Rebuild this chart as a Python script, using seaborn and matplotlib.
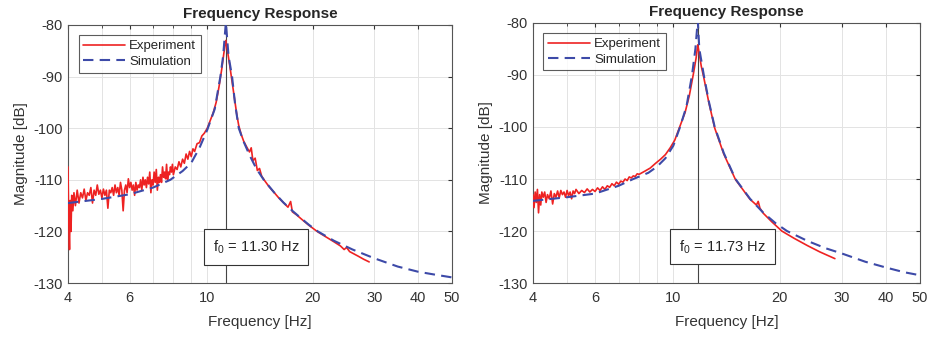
import numpy as np
import pandas as pd
import matplotlib
matplotlib.use("Agg")
import matplotlib.pyplot as plt
import seaborn as sns
from matplotlib.ticker import FixedLocator, NullFormatter

# ---------------- data ----------------
# Left panel: f0 = 11.30 Hz
sim1_f = [4.0, 5.0, 6.0, 7.0, 7.84, 8.5, 9.0, 9.5, 10.0, 10.5, 10.9, 11.1, 11.3,
          11.5, 11.77, 12.0, 12.3, 12.7, 13.2, 13.8, 14.5, 15.5, 16.5, 17.5, 18.5,
          19.5, 20.7, 23.0, 26.0, 30.0, 35.0, 40.0, 45.0, 50.0]
sim1_m = [-114.5, -113.7, -112.8, -111.5, -110.0, -108.3, -106.7, -103.8, -100.3,
          -96.3, -90.0, -86.0, -79.5, -86.0, -90.0, -95.2, -100.0, -102.6, -105.2,
          -107.8, -110.0, -112.4, -114.4, -116.0, -117.4, -118.7, -120.0, -121.8,
          -123.5, -125.2, -126.8, -127.8, -128.4, -128.9]

exp1_f = [4.00, 4.02, 4.04, 4.06, 4.08, 4.10, 4.13, 4.16, 4.20, 4.25, 4.30, 4.35,
          4.40, 4.45, 4.50, 4.55, 4.60, 4.65, 4.70, 4.75, 4.80, 4.85, 4.90, 4.95,
          5.00, 5.05, 5.10, 5.15, 5.20, 5.25, 5.30, 5.35, 5.40, 5.45, 5.50, 5.55,
          5.60, 5.65, 5.70, 5.75, 5.80, 5.85, 5.90, 5.95, 6.00, 6.05, 6.10, 6.15,
          6.20, 6.25, 6.30, 6.35, 6.40, 6.45, 6.50, 6.55, 6.60, 6.65, 6.70, 6.75,
          6.80, 6.85, 6.90, 6.95, 7.00, 7.05, 7.10, 7.15, 7.20, 7.25, 7.30, 7.35,
          7.40, 7.45, 7.50, 7.55, 7.60, 7.65, 7.70, 7.75, 7.80, 7.85, 7.90, 7.95,
          8.00, 8.10, 8.20, 8.30, 8.40, 8.50, 8.60, 8.70, 8.80, 8.90, 9.00, 9.10,
          9.20, 9.35, 9.50, 9.65, 9.80, 10.0, 10.2, 10.4, 10.6, 10.8, 11.0, 11.15,
          11.3, 11.45, 11.6, 11.8, 12.0, 12.15, 12.3, 12.5, 12.7, 12.95, 13.2, 13.35,
          13.5, 13.7, 13.9, 14.1, 14.3, 14.6, 15.0, 15.5, 16.0, 16.5, 17.0, 17.3,
          17.5, 18.0, 18.5, 19.5, 20.7, 22.0, 23.0, 24.0, 24.6, 25.0, 25.5, 26.0,
          27.0, 28.0, 29.0]
exp1_m = [-107.5, -118.0, -123.5, -114.0, -120.0, -113.0, -116.0, -112.5, -115.0,
          -112.0, -114.5, -112.5, -113.5, -111.8, -114.0, -112.5, -113.0, -111.5,
          -114.5, -112.0, -113.0, -111.0, -112.8, -112.0, -113.5, -111.8, -113.0,
          -112.0, -115.5, -112.0, -112.5, -111.5, -113.0, -111.0, -112.5, -111.5,
          -113.0, -110.5, -112.0, -116.0, -112.0, -111.0, -112.5, -109.8, -111.5,
          -110.5, -112.0, -111.0, -113.0, -110.5, -112.0, -111.0, -111.5, -110.0,
          -112.0, -109.5, -111.0, -110.0, -111.5, -109.5, -110.8, -108.5, -112.5,
          -110.0, -111.0, -108.5, -110.5, -108.0, -112.0, -109.5, -110.5, -109.0,
          -110.5, -107.5, -109.5, -108.5, -109.8, -107.0, -110.0, -108.5, -109.0,
          -107.5, -108.5, -107.0, -109.0, -107.5, -108.0, -106.5, -107.5, -106.0,
          -106.8, -105.0, -106.0, -104.5, -105.5, -104.0, -104.5, -103.0, -102.8,
          -101.5, -101.0, -100.0, -98.5, -97.0, -95.0, -92.0, -88.5, -85.5, -83.0,
          -85.5, -88.0, -91.5, -95.0, -97.5, -99.5, -101.2, -102.5, -103.6, -104.6,
          -103.8, -106.3, -105.8, -108.2, -107.8, -109.3, -110.2, -111.3, -112.4,
          -113.5, -114.4, -115.3, -114.2, -116.2, -116.8, -117.5, -118.8, -120.1,
          -121.2, -122.0, -122.8, -123.5, -123.1, -123.9, -124.2, -124.8, -125.4,
          -125.9]

# Right panel: f0 = 11.73 Hz
sim2_f = [4.0, 5.0, 6.0, 7.0, 7.7, 8.5, 9.0, 9.5, 10.0, 10.45, 10.9, 11.3, 11.55,
          11.73, 11.85, 12.2, 12.6, 13.1, 13.9, 15.0, 16.5, 18.0, 19.5, 21.0, 24.0,
          27.0, 30.0, 35.0, 40.0, 45.0, 50.0]
sim2_m = [-114.2, -113.5, -112.8, -111.3, -110.0, -108.8, -107.6, -106.0, -103.6,
          -100.0, -96.0, -90.0, -85.0, -79.5, -85.0, -90.0, -95.0, -100.0, -105.0,
          -110.0, -113.8, -116.5, -118.5, -120.0, -121.9, -123.3, -124.3, -125.9,
          -127.0, -127.9, -128.5]

exp2_f = [4.00, 4.03, 4.06, 4.09, 4.12, 4.15, 4.18, 4.21, 4.24, 4.28, 4.32, 4.36,
          4.40, 4.45, 4.50, 4.55, 4.60, 4.65, 4.70, 4.75, 4.80, 4.85, 4.90, 4.95,
          5.00, 5.05, 5.10, 5.15, 5.20, 5.25, 5.30, 5.40, 5.50, 5.60, 5.70, 5.80,
          5.90, 6.00, 6.10, 6.20, 6.30, 6.40, 6.50, 6.60, 6.70, 6.80, 6.90, 7.00,
          7.10, 7.20, 7.30, 7.40, 7.50, 7.60, 7.70, 7.80, 7.90, 8.00, 8.30, 8.60,
          8.90, 9.20, 9.50, 9.80, 10.1, 10.45, 10.8, 11.1, 11.4, 11.6, 11.73, 11.85,
          12.0, 12.2, 12.6, 13.1, 13.9, 15.0, 16.5, 17.2, 17.4, 17.6, 18.0, 19.0,
          20.3, 22.0, 24.0, 26.0, 28.7]
exp2_m = [-113.0, -115.5, -112.5, -114.5, -112.0, -116.5, -113.0, -115.0, -112.5,
          -113.5, -112.5, -114.5, -113.0, -113.8, -112.3, -114.8, -112.8, -113.5,
          -112.3, -113.6, -112.2, -113.0, -112.5, -113.5, -112.2, -113.2, -112.5,
          -113.8, -112.3, -112.8, -112.0, -112.8, -112.2, -112.6, -111.9, -112.5,
          -112.0, -112.4, -111.7, -112.2, -111.5, -112.0, -111.3, -111.6, -110.9,
          -111.3, -110.6, -111.0, -110.4, -110.6, -110.0, -110.3, -109.6, -109.8,
          -109.4, -109.5, -109.0, -109.1, -108.5, -107.9, -107.0, -106.2, -105.3,
          -104.0, -102.5, -99.8, -97.2, -94.0, -89.8, -86.8, -84.2, -86.0, -88.3,
          -90.5, -95.2, -100.2, -105.2, -110.1, -113.9, -115.0, -114.3, -115.6,
          -116.6, -118.2, -120.0, -121.4, -122.8, -124.0, -125.3]

f0_values = [11.30, 11.73]
f0_labels = ["f$_0$ = 11.30 Hz", "f$_0$ = 11.73 Hz"]
x_ticks = [4, 6, 10, 20, 30, 40, 50]
x_minor = [5, 7, 8, 9]
y_ticks = [-130, -120, -110, -100, -90, -80]

# ---------------- styling ----------------
sns.set_style("white")
plt.rcParams["font.family"] = ["Liberation Sans", "DejaVu Sans"]
plt.rcParams["mathtext.fontset"] = "custom"
plt.rcParams["mathtext.rm"] = "Liberation Sans"

RED = "#ee2222"
BLUE = "#3d4aa8"
GRID = "#e3e3e3"
TXT = "#333333"

fig = plt.figure(figsize=(9.3, 3.37), dpi=100)
ax1 = fig.add_axes([0.0731, 0.160, 0.4129, 0.766])
ax2 = fig.add_axes([0.5730, 0.160, 0.4162, 0.772])

panels = [
    (ax1, exp1_f, exp1_m, sim1_f, sim1_m, f0_values[0], f0_labels[0]),
    (ax2, exp2_f, exp2_m, sim2_f, sim2_m, f0_values[1], f0_labels[1]),
]

for ax, ef, em, sf, sm, f0, lab in panels:
    exp_df = pd.DataFrame({"Frequency": ef, "Magnitude": em})
    sim_df = pd.DataFrame({"Frequency": sf, "Magnitude": sm})
    ax.set_xscale("log")
    sns.lineplot(data=exp_df, x="Frequency", y="Magnitude", ax=ax, color=RED,
                 lw=1.2, label="Experiment", estimator=None, sort=False, zorder=3)
    sns.lineplot(data=sim_df, x="Frequency", y="Magnitude", ax=ax, color=BLUE,
                 lw=1.5, label="Simulation", estimator=None, sort=False, zorder=4,
                 dashes=False, linestyle=(0, (5, 3)))
    ax.axvline(f0, color="#444444", lw=0.8, zorder=2)

    ax.set_xlim(4, 50)
    ax.set_ylim(-130, -80)
    ax.xaxis.set_major_locator(FixedLocator(x_ticks))
    ax.set_xticklabels([str(t) for t in x_ticks])
    ax.xaxis.set_minor_locator(FixedLocator(x_minor))
    ax.xaxis.set_minor_formatter(NullFormatter())
    ax.set_yticks(y_ticks)
    ax.set_yticklabels([str(t) for t in y_ticks])
    ax.grid(True, which="major", color=GRID, lw=0.7)
    ax.grid(True, which="minor", axis="x", color=GRID, lw=0.7)
    ax.set_axisbelow(True)
    ax.tick_params(which="both", direction="in", top=True, right=True,
                   labelsize=10.5, colors=TXT, length=3)
    ax.tick_params(axis="x", which="major", pad=6)
    ax.tick_params(which="minor", length=2)
    for s in ax.spines.values():
        s.set_color("#555555")
        s.set_linewidth(0.8)
    ax.set_xlabel("Frequency [Hz]", fontsize=11, color=TXT, labelpad=7)
    ax.set_ylabel("Magnitude [dB]", fontsize=11, color=TXT, labelpad=4)
    ax.set_title("Frequency Response", fontsize=11, fontweight="bold", pad=5)
    leg = ax.legend(loc="upper left", fontsize=9.5, frameon=True, fancybox=False,
                    edgecolor=TXT, borderaxespad=0.8, handlelength=3.2,
                    borderpad=0.35, labelspacing=0.25, handletextpad=0.3)
    leg.get_frame().set_linewidth(0.8)
    ax.text(13.8, -123, lab, ha="center", va="center", fontsize=10.5, zorder=5,
            bbox=dict(boxstyle="square,pad=0.6", fc="white", ec=TXT, lw=0.8))

fig.savefig("out.png", dpi=100)
